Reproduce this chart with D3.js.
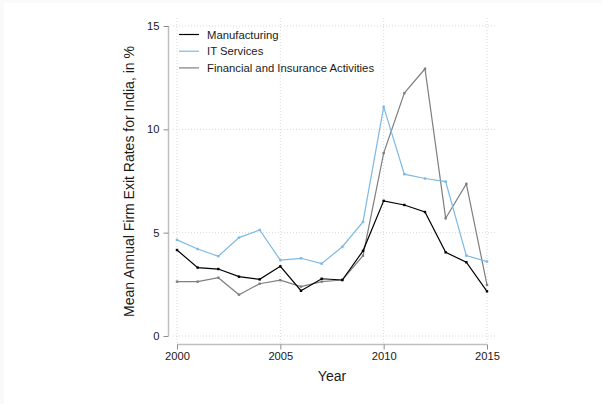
<!DOCTYPE html>
<html><head><meta charset="utf-8">
<script src="https://cdn.jsdelivr.net/npm/d3@7"></script>
<style>body{margin:0;background:#fafafa}svg{display:block}text{font-family:"Liberation Sans",Arial,sans-serif;fill:#1a1a1a}</style>
</head><body><svg id="c" width="602" height="404"></svg>
<script>
const years = [2000,2001,2002,2003,2004,2005,2006,2007,2008,2009,2010,2011,2012,2013,2014,2015];
const manufacturing = [4.16,3.31,3.24,2.87,2.74,3.37,2.19,2.77,2.71,4.12,6.54,6.34,6.00,4.05,3.57,2.16];
const itServices = [4.65,4.21,3.86,4.76,5.13,3.67,3.76,3.50,4.32,5.52,11.09,7.83,7.62,7.47,3.89,3.60];
const financial = [2.63,2.63,2.82,2.00,2.53,2.70,2.39,2.63,2.71,3.89,8.85,11.75,12.93,5.70,7.36,2.47];
const seriesNames = ["Manufacturing","IT Services","Financial and Insurance Activities"];
const seriesColors = ["#000000","#7cb9e6","#7f7f7f"];
const xTicks = [2000,2005,2010,2015];
const yTicks = [0,5,10,15];

const svg = d3.select("#c");
svg.append("rect").attr("x",4).attr("y",3).attr("width",598).attr("height",401).attr("fill","#fff");

const x = d3.scaleLinear().domain([2000,2015]).range([177,487]);
const y = d3.scaleLinear().domain([0,15]).range([336,26]);
const plotL = 173, plotR = 495, plotT = 18, plotB = 344;

// grid
const g = svg.append("g");
yTicks.forEach(t=>g.append("line").attr("x1",plotL).attr("x2",plotR).attr("y1",y(t)).attr("y2",y(t))
  .attr("stroke","#d9d9d9").attr("stroke-width",1).attr("stroke-dasharray","1,2"));
xTicks.forEach(t=>g.append("line").attr("x1",x(t)).attr("x2",x(t)).attr("y1",plotT).attr("y2",plotB)
  .attr("stroke","#d9d9d9").attr("stroke-width",1).attr("stroke-dasharray","1,2"));

// axes
const yAxis = svg.append("g").attr("transform","translate(168.5,0)")
  .call(d3.axisLeft(y).tickValues(yTicks).tickSize(5).tickPadding(4).tickFormat(d3.format("d")));
yAxis.select(".domain").attr("d",`M0,${y(15)}V${y(0)}`).attr("stroke","#bfbfbf").attr("stroke-width",1.5);
const xAxis = svg.append("g").attr("transform","translate(0,344.5)")
  .call(d3.axisBottom(x).tickValues(xTicks).tickSize(5).tickPadding(3).tickFormat(d3.format("d")));
xAxis.select(".domain").attr("d",`M${x(2000)},0H${x(2015)}`).attr("stroke","#bfbfbf").attr("stroke-width",1.5);
svg.selectAll(".tick line").attr("stroke","#8c8c8c");
svg.selectAll(".tick text").attr("font-size",11.2).attr("fill","#1a1a1a").attr("font-family","Liberation Sans, Arial, sans-serif");

// titles
svg.append("text").attr("x",332).attr("y",381).attr("text-anchor","middle").attr("font-size",14).text("Year");
svg.append("text").attr("transform","translate(134,181.5) rotate(-90)").attr("text-anchor","middle").attr("font-size",14)
  .text("Mean Annual Firm Exit Rates for India, in %");

// lines
const allSeries = [manufacturing, itServices, financial];
const line = d3.line().x((d,i)=>x(years[i])).y(d=>y(d));
[2,1,0].forEach(k=>{
  svg.append("path").attr("d",line(allSeries[k])).attr("fill","none").attr("stroke",seriesColors[k]).attr("stroke-width",1.2);
  svg.append("g").selectAll("rect").data(allSeries[k]).join("rect")
    .attr("x",(d,i)=>x(years[i])-1.2).attr("y",d=>y(d)-1.2).attr("width",2.4).attr("height",2.4).attr("fill",seriesColors[k]);
});

// legend
seriesNames.forEach((n,i)=>{
  const ly = 34.5 + i*16.7;
  svg.append("line").attr("x1",179).attr("x2",199).attr("y1",ly).attr("y2",ly).attr("stroke",seriesColors[i]).attr("stroke-width",1.2);
  svg.append("text").attr("x",207).attr("y",ly+4).attr("font-size",11.3).text(n);
});
</script></body></html>
